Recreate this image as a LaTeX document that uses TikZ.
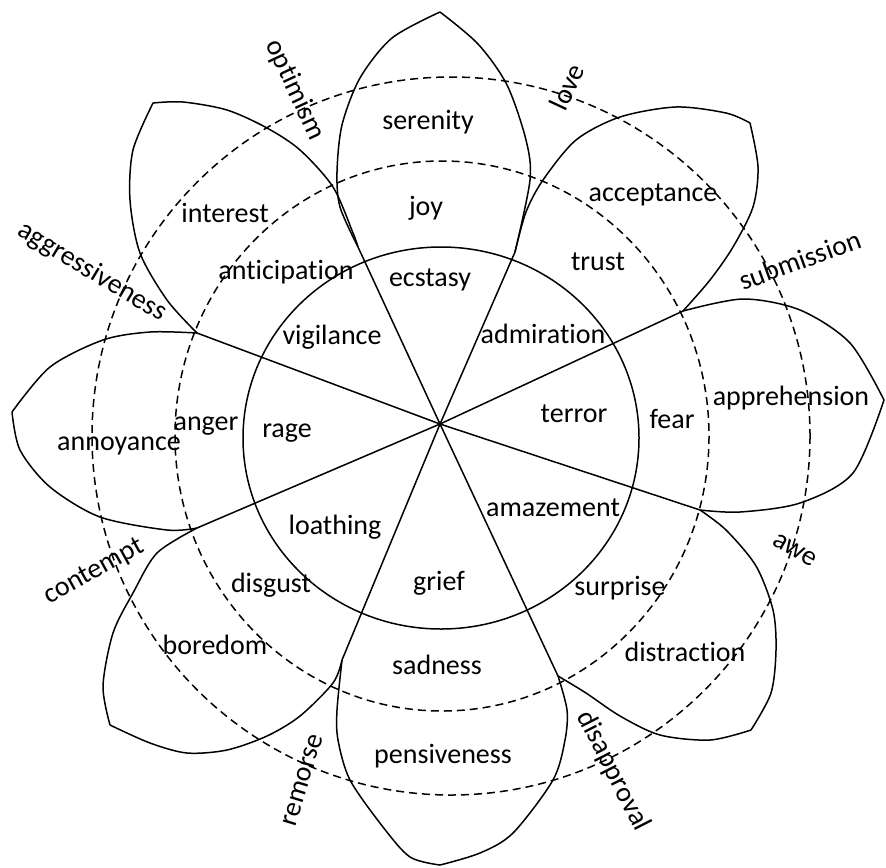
\documentclass[tikz,border=0pt]{standalone}
\usepackage{fontspec}
\setmainfont{Carlito}[Ligatures=NoCommon]
\begin{document}
\begin{tikzpicture}[x=0.5pt, y=-0.5pt, line width=0.75pt,
		font=\fontsize{14}{16}\selectfont,
		ring/.style={dash pattern=on 4pt off 2.5pt}]
		\useasboundingbox (0,0) rectangle (886,867);
		% центр и лучи
		\coordinate (o) at (440,424);
		\foreach \n/\x/\y in {a/683/311, b/515/252, c/358/247, d/197/333,
			e/197/528, f/342/660, g/558/676, h/700/510}{
			\coordinate (r\n) at (\x,\y);
			\draw (o) -- (r\n);
		}
		% круги
		\draw (441,438) ellipse [x radius=198, y radius=191];
		\draw[ring] (442,436) ellipse [x radius=267, y radius=275];
		\draw[ring] (451,436) circle [radius=359];
		% лепестки
		\draw plot[smooth] coordinates {(rc) (340,207) (337,172) (342,125) (360,78) (392,38) (440,12)}
			plot[smooth] coordinates {(440,12) (478,44) (507,85) (526,140) (530,180) (rb)};
		\draw plot[smooth] coordinates {(rb) (526,212) (543,180) (576,140) (620,117) (676,107) (726,113) (750,123)}
			plot[smooth] coordinates {(750,123) (758,167) (753,207) (733,247) (710,280) (ra)};
		\draw plot[smooth] coordinates {(ra) (743,299) (800,310) (850,343) (884,400)}
			plot[smooth] coordinates {(884,400) (853,473) (800,503) (740,512) (rh)};
		\draw plot[smooth] coordinates {(rh) (726,530) (756,566) (773,610) (776,650) (771,693) (751,730)}
			plot[smooth] coordinates {(751,730) (710,740) (660,735) (620,716) (586,693) (rg)};
		\draw plot[smooth] coordinates {(rg) (567,710) (565,740) (553,780) (513,833) (480,853) (440,865)}
			plot[smooth] coordinates {(440,865) (410,857) (383,827) (350,780) (338,740) (337,710) (rf)};
		\draw plot[smooth] coordinates {(rf) (333,683) (300,716) (267,736) (227,750) (187,753) (150,743) (110,725)}
			plot[smooth] coordinates {(110,725) (103,686) (113,633) (133,593) (157,553) (re)};
		\draw plot[smooth] coordinates {(re) (167,530) (100,517) (50,487) (20,450) (12,412)}
			plot[smooth] coordinates {(12,412) (50,367) (103,340) (150,332) (rd)};
		\draw plot[smooth] coordinates {(rd) (167,300) (140,253) (130,200) (133,150) (153,103)}
			plot[smooth] coordinates {(153,103) (183,102) (227,110) (267,128) (300,150) (333,187) (353,233) (rc)};
		% внутренний круг
		\foreach \x/\y/\val in {430/280/ecstasy, 543/334/admiration, 574/414/terror, 553/508/amazement,
			439/583/grief, 335/527/loathing, 287/433/rage, 332/337/vigilance}{
			\node (n-\val) at (\x,\y) {\val};
		}
		% среднее кольцо
		\foreach \x/\y/\val in {426/208/joy, 598/262/trust, 672/419/fear, 620/588/surprise,
			437/665/sadness, 271/585/disgust, 206/426/anger, 286/272/anticipation}{
			\node (n-\val) at (\x,\y) {\val};
		}
		% внешнее кольцо
		\foreach \x/\y/\val in {428/122/serenity, 653/195/acceptance, 791/398/apprehension,
			685/652/distraction, 443/756/pensiveness, 215/645/boredom, 119/446/annoyance, 225/213/interest}{
			\node (n-\val) at (\x,\y) {\val};
		}
		% диады снаружи
		\foreach \x/\y/\a/\val in {295/90/-65/optimism, 567/87/65/love, 800/260/20/submission,
			795/550/-30/awe, 613/771/-63/disapproval, 303/780/73/remorse, 94/572/29/contempt,
			92/272/-31/aggressiveness}{
			\node[rotate=\a] (n-\val) at (\x,\y) {\val};
		}
	\end{tikzpicture}
\end{document}
